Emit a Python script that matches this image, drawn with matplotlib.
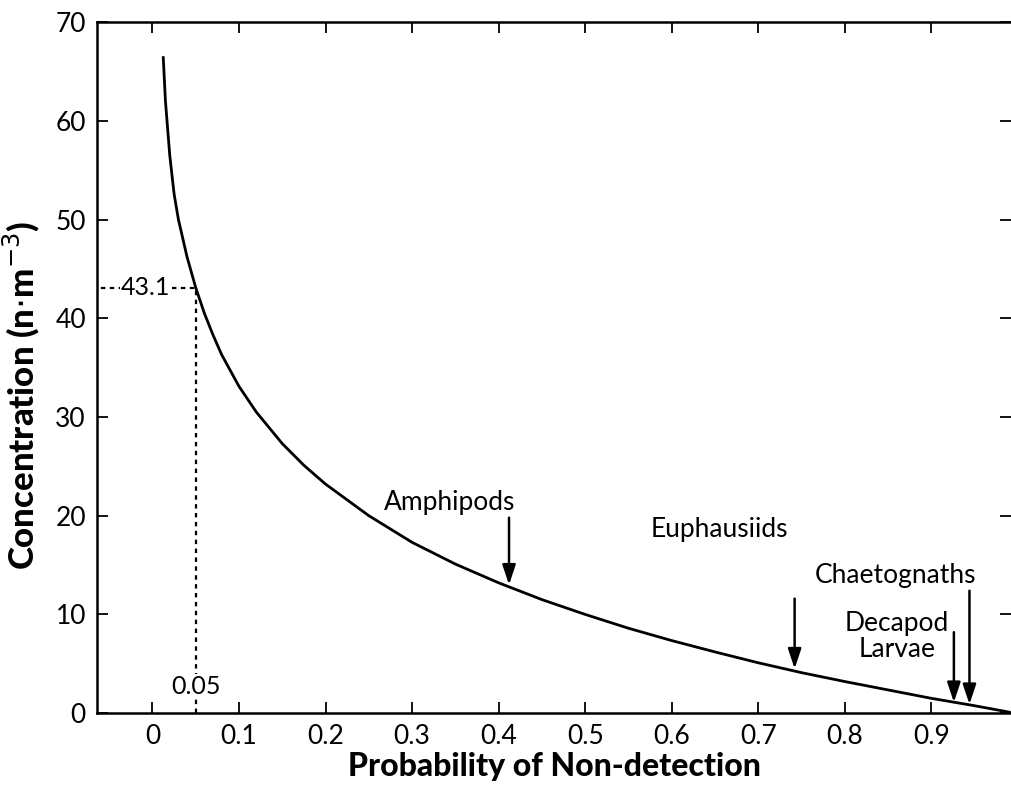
import matplotlib.pyplot as plt

# curve values
prob = [0.0125, 0.015, 0.02, 0.025, 0.03, 0.04, 0.05, 0.06, 0.07, 0.08, 0.1,
        0.12, 0.15, 0.175, 0.2, 0.25, 0.3, 0.35, 0.4, 0.45, 0.5, 0.55, 0.6,
        0.65, 0.7, 0.75, 0.8, 0.85, 0.9, 0.95, 0.99]
conc = [66.4, 62.0, 56.5, 52.6, 50.0, 46.2, 43.1, 40.5, 38.3, 36.3, 33.1,
        30.5, 27.3, 25.1, 23.2, 20.0, 17.3, 15.1, 13.2, 11.5, 10.0, 8.6, 7.35,
        6.2, 5.1, 4.1, 3.2, 2.35, 1.5, 0.75, 0.1]

# taxa: label, arrow x, arrow top, arrow tip, text x, text y
taxa = ["Amphipods", "Euphausiids", "Chaetognaths", "Decapod\nLarvae"]
arrow_x = [0.412, 0.742, 0.944, 0.926]
arrow_top = [19.8, 11.6, 12.4, 8.2]
arrow_tip = [13.0, 4.5, 0.9, 1.1]
text_x = [0.343, 0.655, 0.858, 0.86]
text_y = [21.3, 18.6, 13.9, 7.8]

crit_p = 0.05
crit_c = 43.1

plt.rcParams['font.family'] = ['Lato', 'DejaVu Sans']

fig = plt.figure(figsize=(10.11, 7.88), dpi=100)
ax = fig.add_axes([0.096, 0.095, 0.904, 0.877])

ax.plot(prob, conc, color='black', lw=2)

# dotted guide lines
ax.plot([-0.07, crit_p], [crit_c, crit_c], color='black', lw=1.6, ls=(0, (2, 2)))
ax.plot([crit_p, crit_p], [0, crit_c], color='black', lw=1.6, ls=(0, (2, 2)))
ax.text(-0.008, crit_c, "43.1", ha='center', va='center', fontsize=18,
        bbox=dict(facecolor='white', edgecolor='none', pad=0.5))
ax.text(crit_p, 2.7, "0.05", ha='center', va='center', fontsize=18,
        bbox=dict(facecolor='white', edgecolor='none', pad=0.5))

for i in range(len(taxa)):
    ax.annotate("", xy=(arrow_x[i], arrow_tip[i]), xytext=(arrow_x[i], arrow_top[i]),
                arrowprops=dict(arrowstyle='-|>,head_length=0.6,head_width=0.2',
                                color='black', lw=1.8,
                                mutation_scale=20, shrinkA=0, shrinkB=0))
    ax.text(text_x[i], text_y[i], taxa[i], ha='center', va='center',
            fontsize=19, linespacing=1.05)

ax.set_xlim(-0.064, 0.992)
ax.set_ylim(0, 70)
ax.set_xticks([0, 0.1, 0.2, 0.3, 0.4, 0.5, 0.6, 0.7, 0.8, 0.9])
ax.set_xticklabels(["0", "0.1", "0.2", "0.3", "0.4", "0.5", "0.6", "0.7", "0.8", "0.9"])
ax.set_yticks([0, 10, 20, 30, 40, 50, 60, 70])
ax.tick_params(direction='in', length=8, width=1.3, labelsize=19, top=True, right=True, pad=8)
ax.spines['right'].set_visible(False)
for s in ['left', 'bottom', 'top']:
    ax.spines[s].set_linewidth(1.8)

ax.set_xlabel("Probability of Non-detection", fontsize=23, fontweight='black', labelpad=2)
ax.set_ylabel(r"Concentration (n$\cdot$m$^{-3}$)", fontsize=25, fontweight='black')
ax.yaxis.set_label_coords(-0.06, 0.46)

fig.savefig("out.png", dpi=100)
